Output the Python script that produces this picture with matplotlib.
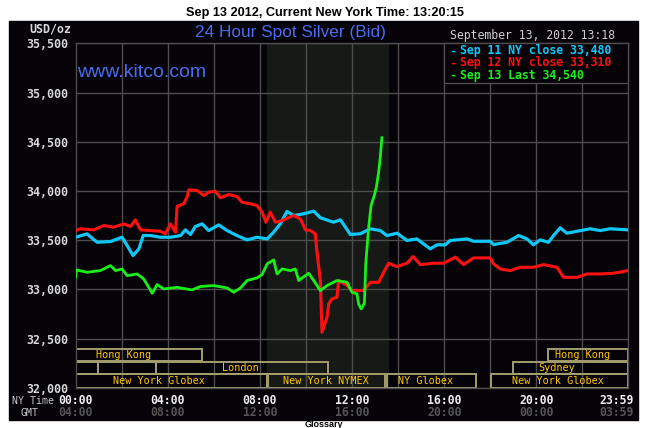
import matplotlib
matplotlib.use("Agg")
import matplotlib.pyplot as plt
from matplotlib.patches import Rectangle
import matplotlib.transforms as mtransforms

# --- data (hours NY time, USD/oz) ---
sep11_h = [0.00, 0.50, 0.94, 1.52, 2.02, 2.24, 2.50, 2.75, 2.94, 3.25, 3.69, 4.12, 4.56, 4.77,
           4.99, 5.20, 5.50, 5.78, 6.22, 6.58, 7.01, 7.45, 7.88, 8.32, 8.60, 8.89, 9.18, 9.47,
           9.90, 10.34, 10.63, 11.20, 11.50, 11.93, 12.36, 12.80, 13.23, 13.52, 13.96, 14.39,
           14.82, 15.40, 15.69, 16.05, 16.27, 16.99, 17.28, 18.00, 18.15, 18.73, 19.23, 19.60,
           19.88, 20.17, 20.53, 20.75, 21.04, 21.33, 21.77, 22.34, 22.78, 23.21, 23.98]
sep11_p = [33529, 33563, 33478, 33485, 33529, 33445, 33343, 33411, 33546, 33546, 33529, 33529,
           33546, 33604, 33557, 33638, 33665, 33597, 33655, 33597, 33546, 33502, 33529, 33512,
           33580, 33665, 33791, 33750, 33767, 33794, 33727, 33682, 33706, 33557, 33564, 33615,
           33597, 33546, 33570, 33496, 33512, 33411, 33452, 33452, 33496, 33512, 33488, 33488,
           33455, 33478, 33546, 33512, 33452, 33502, 33478, 33546, 33625, 33570, 33590, 33615,
           33597, 33615, 33604]

sep12_h = [0.00, 0.22, 0.80, 1.23, 1.66, 2.10, 2.39, 2.60, 2.82, 3.25, 3.69, 3.90, 4.12, 4.34,
           4.41, 4.70, 4.85, 4.92, 5.28, 5.57, 5.78, 6.07, 6.29, 6.65, 7.01, 7.23, 7.59, 7.88,
           8.10, 8.27, 8.46, 8.68, 8.97, 9.47, 9.76, 9.98, 10.20, 10.41, 10.46, 10.56, 10.63,
           10.70, 10.92, 10.99, 11.13, 11.35, 11.42, 11.79, 12.00, 12.50, 12.80, 13.16, 13.38,
           13.59, 13.95, 14.39, 14.65, 14.97, 15.55, 15.98, 16.49, 16.85, 17.28, 18.00, 18.15,
           18.44, 18.87, 19.31, 19.88, 20.32, 20.90, 21.18, 21.77, 22.20, 22.78, 23.35, 23.98]
sep12_p = [33597, 33615, 33604, 33648, 33631, 33665, 33638, 33706, 33604, 33597, 33590, 33564,
           33665, 33580, 33842, 33869, 33943, 34011, 34004, 33953, 33987, 33997, 33930, 33963,
           33943, 33885, 33869, 33852, 33784, 33682, 33784, 33682, 33699, 33750, 33716, 33604,
           33597, 33564, 33427, 33224, 33089, 32563, 32715, 32851, 32902, 32919, 33089, 33038,
           32987, 32987, 33071, 33071, 33173, 33265, 33231, 33265, 33333, 33251, 33265, 33265,
           33326, 33251, 33319, 33319, 33258, 33207, 33190, 33224, 33224, 33251, 33224, 33122,
           33122, 33156, 33156, 33163, 33190]

sep13_h = [0.00, 0.04, 0.50, 1.08, 1.52, 1.74, 2.02, 2.24, 2.68, 2.96, 3.18, 3.33, 3.54, 3.83,
           4.41, 5.06, 5.42, 6.00, 6.58, 6.87, 7.16, 7.45, 7.88, 8.10, 8.32, 8.60, 8.75, 8.97,
           9.33, 9.54, 9.69, 10.12, 10.34, 10.63, 10.92, 11.35, 11.79, 12.00, 12.22, 12.29,
           12.40, 12.54, 12.60, 12.72, 12.83, 12.97, 13.06, 13.16, 13.23, 13.30]
sep13_p = [33122, 33197, 33173, 33190, 33241, 33190, 33207, 33139, 33156, 33105, 33020, 32959,
           33048, 33004, 33020, 32994, 33028, 33038, 33014, 32970, 33014, 33089, 33116, 33150,
           33258, 33299, 33156, 33207, 33190, 33207, 33089, 33163, 33089, 32987, 33038, 33089,
           33071, 32970, 32953, 32851, 32800, 32858, 33258, 33615, 33852, 33953, 34038, 34190,
           34343, 34540]

legend_labels = ["Sep 11 NY close 33,480", "Sep 12 NY close 33,310", "Sep 13 Last 34,540"]

y_ticks = [32000, 32500, 33000, 33500, 34000, 34500, 35000, 35500]
x_ticks = [0, 4, 8, 12, 16, 20, 23.983]
ny_labels = ["00:00", "04:00", "08:00", "12:00", "16:00", "20:00", "23:59"]
gmt_labels = ["04:00", "08:00", "12:00", "16:00", "20:00", "00:00", "03:59"]

# market sessions: (row, start hour, end hour, label)
sess_row = [0, 0, 1, 1, 1, 1, 2, 2, 2, 2]
sess_start = [0.0, 20.5, 0.0, 0.98, 3.49, 19.0, 0.0, 8.35, 13.52, 18.03]
sess_end = [5.49, 23.98, 0.98, 3.49, 10.96, 23.98, 8.31, 13.43, 17.38, 23.98]
sess_name = ["Hong Kong", "Hong Kong", "", "", "London", "Sydney",
             "New York Globex", "New York NYMEX", "NY Globex", "New York Globex"]
sess_text_x = [2.1, 22.0, 0, 0, 7.14, 20.9, 3.62, 10.87, 15.2, 20.94]

nymex_open, nymex_close = 8.33, 13.58

BG = "#050308"
GRID = "#4d4d4d"
COLORS = ["#10c8f8", "#ff1010", "#18f018"]
MONO = "DejaVu Sans Mono"

W, H = 648, 428


def fx(x):
    return x / W


def fy(y):
    return 1 - y / H


fig = plt.figure(figsize=(6.48, 4.28), dpi=100, facecolor="white")
fig.patches.append(Rectangle((fx(9), fy(420)), fx(629), (420 - 21) / H,
                             transform=fig.transFigure, color=BG, zorder=-5))

ax = fig.add_axes([fx(75.5), fy(387.7), fx(552.5), 344.4 / H])
ax.set_zorder(1)
ax.set_facecolor(BG)
ax.set_xlim(0, 23.983)
ax.set_ylim(32000, 35500)

# NYMEX trading hours shading
ax.axvspan(nymex_open, nymex_close, color="#161916", zorder=0)

for h in range(2, 24, 2):
    ax.axvline(h, color=GRID, lw=1, zorder=1)
for v in y_ticks:
    ax.axhline(v, color=GRID, lw=1, zorder=1)
for s in ax.spines.values():
    s.set_color(GRID)
    s.set_linewidth(1)

ax.plot(sep11_h, sep11_p, color=COLORS[0], lw=2.3, zorder=3)
ax.plot(sep12_h, sep12_p, color=COLORS[1], lw=2.2, zorder=3)
ax.plot(sep13_h, sep13_p, color=COLORS[2], lw=2.0, zorder=4)

ax.set_yticks(y_ticks)
ax.set_yticklabels([f"{v:,}" for v in y_ticks], family=MONO, weight="bold",
                   fontsize=8.4, color="#d8d8d8")
ax.set_xticks([])
ax.tick_params(axis="y", length=0, pad=5)

# session boxes
trans = mtransforms.blended_transform_factory(ax.transData, ax.transAxes)
row_y = [0.0767, 0.0389, 0.0]
row_h = [0.0348, 0.0349, 0.0389]
for r, a, b, name, tx in zip(sess_row, sess_start, sess_end, sess_name, sess_text_x):
    ax.add_patch(Rectangle((a, row_y[r]), b - a, row_h[r], transform=trans,
                           fill=False, edgecolor="#a39e6c", lw=1.4, zorder=2))
    if name:
        ax.text(tx, row_y[r] + row_h[r] / 2, name, transform=trans, ha="center",
                va="center", family=MONO, fontsize=7.3, color="#ffc800", zorder=5)

# x labels: NY time and GMT
tx_fig = mtransforms.blended_transform_factory(ax.transData, fig.transFigure)
for i, (t, ny, gmt) in enumerate(zip(x_ticks, ny_labels, gmt_labels)):
    ha = "center"
    xpos = t
    if i == len(x_ticks) - 1:
        ha = "right"
        xpos = t + 6 / 23.04
    fig.text(xpos, fy(400.7), ny, transform=tx_fig, ha=ha, va="center", family=MONO,
             weight="bold", fontsize=8.3, color="#f0f0f0")
    fig.text(xpos, fy(412.7), gmt, transform=tx_fig, ha=ha, va="center", family=MONO,
             weight="bold", fontsize=8.3, color="#555555")
fig.text(fx(54), fy(400.7), "NY Time", ha="right", va="center", family=MONO,
         fontsize=7.1, color="#c8c8c8")
fig.text(fx(29.5), fy(412.7), "GMT", ha="center", va="center", family=MONO,
         fontsize=7.1, color="#c8c8c8")

# legend box
ax.add_patch(Rectangle((0.667, 0.885), 0.333, 0.115, transform=ax.transAxes,
                       facecolor=BG, edgecolor=GRID, lw=1, zorder=6, clip_on=False))
for i, (lab, col) in enumerate(zip(legend_labels, COLORS)):
    yy = fy(50.7 + i * 12.2)
    fig.text(fx(449), yy, "-", ha="left", va="center", family=MONO, weight="bold",
             fontsize=8.3, color=col, zorder=7)
    fig.text(fx(460.5), yy, lab, ha="left", va="center", family=MONO, weight="bold",
             fontsize=8.3, color=col, zorder=7)

fig.text(fx(450), fy(36), "September 13, 2012 13:18", ha="left", va="center",
         family=MONO, fontsize=8.3, color="#cfcfcf")
fig.text(fx(71), fy(29.3), "USD/oz", ha="right", va="center", family=MONO,
         weight="bold", fontsize=8.4, color="#d8d8d8")

fig.text(fx(290), fy(37), "24 Hour Spot Silver (Bid)", ha="center", va="baseline",
         family="Liberation Sans", fontsize=12.4, color="#4a6cf0")
fig.text(fx(77), fy(77.3), "www.kitco.com", ha="left", va="baseline",
         family="Liberation Sans", fontsize=14, color="#4a6cf0", zorder=7)

fig.text(fx(325), fy(13), "Sep 13 2012, Current New York Time: 13:20:15", ha="center",
         va="center", family="Liberation Sans", weight="bold", fontsize=9.2, color="black")
fig.text(fx(324), fy(420.3), "Glossary", ha="center", va="top", family="Liberation Sans",
         weight="bold", fontsize=6.5, color="black")

fig.savefig("out.png", dpi=100, facecolor="white")
